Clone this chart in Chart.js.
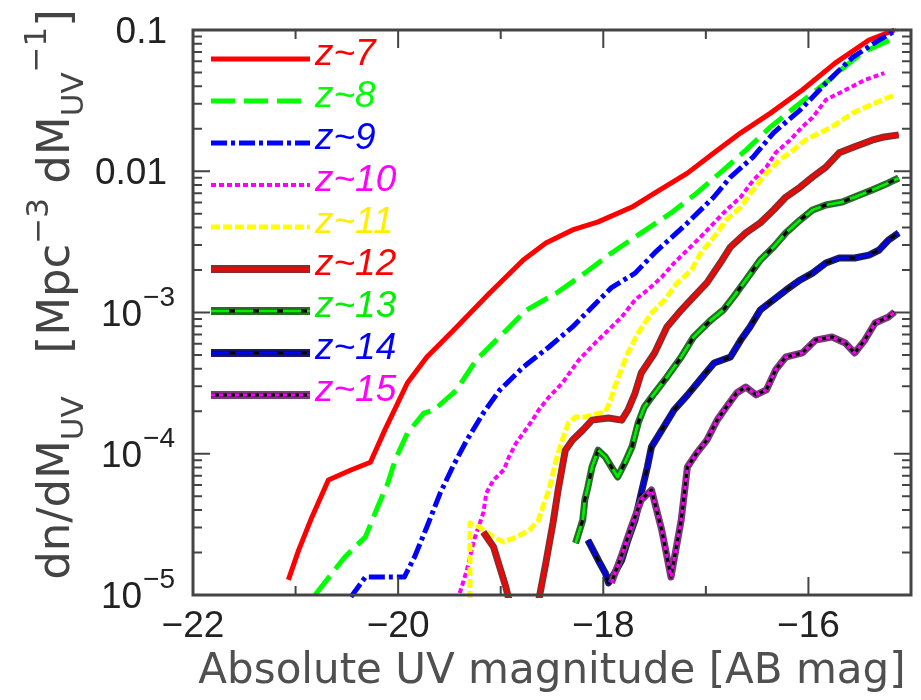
<!DOCTYPE html>
<html>
<head>
<meta charset="utf-8">
<script src="https://cdn.jsdelivr.net/npm/chart.js@4.4.1/dist/chart.umd.min.js"></script>
<style>
  html, body { margin: 0; padding: 0; background: #fff; }
  #wrap { width: 921px; height: 700px; }
</style>
</head>
<body>
<div id="wrap"><canvas id="lf" width="921" height="700"></canvas></div>
<script>
// UV luminosity function per redshift bin, dn/dM_UV against M_UV
const zLabels = ['z~7', 'z~8', 'z~9', 'z~10', 'z~11', 'z~12', 'z~13', 'z~14', 'z~15'];

const magZ7 = [-21.07, -20.97, -20.84, -20.68, -20.46, -20.27, -20.13, -19.91, -19.72, -19.46, -19.11, -18.78, -18.56, -18.30, -18.05, -17.72, -17.50, -17.18, -16.92, -16.66, -16.37, -16.06, -15.74, -15.41, -15.16];
const phiZ7 = [1.28e-5, 2.08e-5, 3.57e-5, 6.52e-5, 7.67e-5, 8.7e-5, 1.47e-4, 3.17e-4, 4.84e-4, 7.5e-4, 1.37e-3, 2.35e-3, 3.1e-3, 3.84e-3, 4.38e-3, 5.58e-3, 7.0e-3, 9.7e-3, 1.35e-2, 1.87e-2, 2.58e-2, 3.76e-2, 5.83e-2, 8.5e-2, 0.1];

const magZ8 = [-20.81, -20.52, -20.32, -20.20, -20.10, -20.03, -19.91, -19.75, -19.65, -19.43, -19.24, -18.97, -18.75, -18.46, -18.18, -17.92, -17.63, -17.34, -17.09, -16.83, -16.61, -16.37, -16.08, -15.80, -15.48, -15.16];
const phiZ8 = [1.0e-5, 1.86e-5, 2.57e-5, 4.2e-5, 6.2e-5, 9.0e-5, 1.4e-4, 1.94e-4, 2.04e-4, 2.83e-4, 4.6e-4, 7.2e-4, 1.04e-3, 1.37e-3, 1.9e-3, 2.64e-3, 3.66e-3, 5.06e-3, 7.0e-3, 1.02e-2, 1.41e-2, 2.06e-2, 3.04e-2, 4.43e-2, 6.9e-2, 8.8e-2];

const magZ9 = [-20.46, -20.32, -20.20, -19.94, -19.84, -19.72, -19.59, -19.46, -19.33, -19.17, -19.01, -18.78, -18.53, -18.30, -18.11, -17.92, -17.69, -17.50, -17.18, -16.92, -16.76, -16.54, -16.34, -16.08, -15.83, -15.57, -15.31, -15.14];
const phiZ9 = [9.7e-6, 1.34e-5, 1.34e-5, 1.34e-5, 1.86e-5, 3.03e-5, 5.27e-5, 8.3e-5, 1.25e-4, 1.94e-4, 2.82e-4, 4.11e-4, 5.7e-4, 7.9e-4, 1.09e-3, 1.5e-3, 1.9e-3, 2.64e-3, 4.3e-3, 6.6e-3, 9.1e-3, 1.26e-2, 1.87e-2, 2.72e-2, 4.2e-2, 6.4e-2, 8.5e-2, 0.1];

const magZ10 = [-19.40, -19.33, -19.26, -19.17, -19.14, -19.07, -18.97, -18.92, -18.85, -18.78, -18.69, -18.63, -18.53, -18.40, -18.24, -18.08, -17.92, -17.82, -17.69, -17.57, -17.43, -17.31, -17.18, -17.05, -16.92, -16.80, -16.66, -16.54, -16.41, -16.32, -16.18, -16.06, -15.96, -15.83, -15.64, -15.45, -15.26];
const phiZ10 = [1.03e-5, 1.5e-5, 2.45e-5, 3.81e-5, 5.27e-5, 6.52e-5, 7.67e-5, 9.48e-5, 1.19e-4, 1.4e-4, 1.73e-4, 2.04e-4, 2.52e-4, 3.16e-4, 4.6e-4, 6.08e-4, 7.89e-4, 9.3e-4, 1.23e-3, 1.44e-3, 1.78e-3, 2.24e-3, 2.77e-3, 3.43e-3, 4.31e-3, 5.32e-3, 6.57e-3, 8.6e-3, 1.07e-2, 1.35e-2, 1.66e-2, 2.06e-2, 2.4e-2, 3.2e-2, 3.76e-2, 4.43e-2, 4.96e-2];

const magZ11 = [-19.30, -19.30, -19.21, -19.07, -18.97, -18.85, -18.72, -18.63, -18.59, -18.53, -18.49, -18.46, -18.40, -18.34, -18.27, -18.18, -17.98, -17.93, -17.89, -17.76, -17.66, -17.53, -17.40, -17.28, -17.14, -17.05, -16.92, -16.80, -16.66, -16.54, -16.41, -16.28, -16.15, -16.03, -15.89, -15.77, -15.57, -15.35, -15.16];
const phiZ11 = [9.2e-6, 3.24e-5, 3.03e-5, 2.57e-5, 2.37e-5, 2.57e-5, 2.88e-5, 3.4e-5, 4.2e-5, 5.54e-5, 7.31e-5, 9.03e-5, 1.25e-4, 1.65e-4, 1.82e-4, 1.82e-4, 1.98e-4, 2.4e-4, 2.97e-4, 5.17e-4, 7.16e-4, 9.9e-4, 1.23e-3, 1.62e-3, 2.0e-3, 2.64e-3, 3.43e-3, 4.52e-3, 5.58e-3, 7.36e-3, 9.73e-3, 1.2e-2, 1.41e-2, 1.66e-2, 1.87e-2, 2.06e-2, 2.58e-2, 3.04e-2, 3.47e-2];

const magZ12 = [-19.17, -19.07, -19.01, -18.95, -18.88, -18.66, -18.56, -18.49, -18.44, -18.40, -18.37, -18.30, -18.20, -18.11, -17.95, -17.82, -17.76, -17.69, -17.63, -17.50, -17.38, -17.24, -17.12, -16.99, -16.86, -16.76, -16.61, -16.47, -16.34, -16.22, -16.08, -15.96, -15.83, -15.70, -15.55, -15.38, -15.26, -15.12];
const phiZ12 = [2.79e-5, 2.19e-5, 1.58e-5, 1.14e-5, 7e-6, 7e-6, 1.69e-5, 3.24e-5, 5.54e-5, 8.05e-5, 1.06e-4, 1.25e-4, 1.47e-4, 1.73e-4, 1.79e-4, 1.73e-4, 2.04e-4, 2.69e-4, 3.73e-4, 5.17e-4, 7.89e-4, 1.04e-3, 1.29e-3, 1.62e-3, 2.24e-3, 2.91e-3, 3.66e-3, 4.31e-3, 5.32e-3, 6.57e-3, 7.73e-3, 9.1e-3, 1.07e-2, 1.35e-2, 1.49e-2, 1.66e-2, 1.75e-2, 1.81e-2];

const magZ13 = [-18.27, -18.20, -18.18, -18.15, -18.11, -18.05, -17.98, -17.92, -17.86, -17.79, -17.72, -17.66, -17.60, -17.50, -17.38, -17.24, -17.12, -16.95, -16.83, -16.73, -16.61, -16.47, -16.34, -16.22, -16.08, -15.96, -15.83, -15.67, -15.55, -15.38, -15.22, -15.12];
const phiZ13 = [2.33e-5, 3.4e-5, 4.71e-5, 5.82e-5, 8.05e-5, 1.06e-4, 9.48e-5, 8.05e-5, 6.85e-5, 8.61e-5, 1.12e-4, 1.65e-4, 2.14e-4, 2.69e-4, 3.49e-4, 4.84e-4, 6.71e-4, 8.85e-4, 1.04e-3, 1.29e-3, 1.7e-3, 2.35e-3, 2.91e-3, 3.66e-3, 4.52e-3, 5.32e-3, 5.77e-3, 6.06e-3, 6.57e-3, 7.36e-3, 8.26e-3, 8.96e-3];

const magZ14 = [-18.15, -18.05, -17.98, -17.95, -17.89, -17.82, -17.76, -17.69, -17.63, -17.57, -17.53, -17.43, -17.31, -17.18, -17.02, -16.92, -16.76, -16.66, -16.57, -16.47, -16.34, -16.22, -16.08, -15.96, -15.83, -15.70, -15.55, -15.41, -15.31, -15.22, -15.12];
const phiZ14 = [2.45e-5, 1.77e-5, 1.43e-5, 1.22e-5, 1.43e-5, 1.77e-5, 2.45e-5, 3.4e-5, 5.27e-5, 8.05e-5, 1.12e-4, 1.47e-4, 2.04e-4, 2.6e-4, 3.6e-4, 4.39e-4, 4.84e-4, 6.38e-4, 7.89e-4, 1.04e-3, 1.23e-3, 1.44e-3, 1.7e-3, 1.9e-3, 2.24e-3, 2.43e-3, 2.43e-3, 2.55e-3, 2.77e-3, 3.26e-3, 3.66e-3];

const magZ15 = [-17.92, -17.82, -17.72, -17.63, -17.53, -17.43, -17.34, -17.24, -17.18, -17.09, -16.99, -16.89, -16.80, -16.70, -16.61, -16.51, -16.41, -16.32, -16.22, -16.06, -15.93, -15.77, -15.64, -15.55, -15.45, -15.35, -15.22, -15.16];
const phiZ15 = [1.22e-5, 1.92e-5, 3.13e-5, 4.71e-5, 5.54e-5, 2.88e-5, 1.34e-5, 3.4e-5, 8.05e-5, 1.01e-4, 1.25e-4, 1.73e-4, 2.14e-4, 2.69e-4, 2.97e-4, 2.61e-4, 2.83e-4, 3.92e-4, 4.84e-4, 5.17e-4, 6.38e-4, 6.71e-4, 6.08e-4, 5.17e-4, 6.38e-4, 8.43e-4, 9.29e-4, 1.01e-3];

const xTicks = [-22, -21, -20, -19, -18, -17, -16, -15];
const yTicks = [1e-5, 1e-4, 1e-3, 1e-2, 1e-1];
const yTickText = [['10', '−5'], ['10', '−4'], ['10', '−3'], ['0.01', ''], ['0.1', '']];
const xTitle = 'Absolute UV magnitude [AB mag]';

const mags = [magZ7, magZ8, magZ9, magZ10, magZ11, magZ12, magZ13, magZ14, magZ15];
const phis = [phiZ7, phiZ8, phiZ9, phiZ10, phiZ11, phiZ12, phiZ13, phiZ14, phiZ15];

// line looks, gnuplot style; the last four are drawn as a dark band with a bright core
const looks = [
    { color: '#ff0000', width: 5, dash: [] },
    { color: '#00ff00', width: 5, dash: [24, 9] },
    { color: '#0000ff', width: 5, dash: [16, 4, 4, 4] },
    { color: '#ff00ff', width: 4, dash: [5, 3] },
    { color: '#ffff00', width: 5, dash: [9, 3] },
    { color: '#ff0000', width: 3, dash: [], under: '#8b2c2c' },
    { color: '#00ee00', width: 3, dash: [18, 6], under: '#2a6a2a', core: '#000000' },
    { color: '#0000ff', width: 3, dash: [18, 6], under: '#1a1a66', core: '#000000' },
    { color: '#ff00ff', width: 3, dash: [4, 4], under: '#7a3a7a', core: '#000000' }
];

const datasets = [];
zLabels.forEach((name, i) => {
    const pts = mags[i].map((m, k) => ({ x: m, y: phis[i][k] }));
    const lk = looks[i];
    const base = (zLabels.length - i) * 3;   // later redshifts sit on top
    const common = { data: pts, pointRadius: 0, tension: 0, fill: false, clip: 3,
        borderJoinStyle: 'round', borderCapStyle: 'butt' };
    if (lk.under) {
        datasets.push({ ...common, label: name + ' band', borderColor: lk.under, borderWidth: 7, order: base + 2 });
    }
    if (lk.core) {
        datasets.push({ ...common, label: name + ' core', borderColor: lk.core, borderWidth: 3, order: base + 1 });
    }
    datasets.push({ ...common, label: name, borderColor: lk.color, borderWidth: lk.width, borderDash: lk.dash, order: base });
});

// frame plus inward ticks on all four sides
const framePlugin = {
    id: 'frame',
    afterDatasetsDraw(chart) {
        const ctx = chart.ctx;
        const { left, right, top, bottom } = chart.chartArea;
        const xs = chart.scales.x, ys = chart.scales.y;
        ctx.save();
        ctx.strokeStyle = '#444';
        ctx.lineWidth = 2;
        ctx.beginPath();
        xTicks.forEach(v => {
            const px = xs.getPixelForValue(v);
            const len = v % 2 === 0 ? 18 : 9;
            ctx.moveTo(px, bottom); ctx.lineTo(px, bottom - len);
            ctx.moveTo(px, top); ctx.lineTo(px, top + len);
        });
        for (let d = -5; d <= -1; d++) {
            for (let k = 1; k <= 9; k++) {
                const v = k * Math.pow(10, d);
                if (v > 0.1000001) break;
                const py = ys.getPixelForValue(v);
                const len = k === 1 ? 17 : 9;
                ctx.moveTo(left, py); ctx.lineTo(left + len, py);
                ctx.moveTo(right, py); ctx.lineTo(right - len, py);
            }
        }
        ctx.stroke();
        ctx.lineWidth = 3;
        ctx.strokeRect(left, top, right - left, bottom - top);
        ctx.restore();
    }
};

function drawRuns(ctx, runs, x0, y0) {
    let x = x0;
    runs.forEach(r => {
        ctx.font = r.size + 'px "DejaVu Sans"';
        ctx.fillText(r.t, x, y0 + (r.dy || 0));
        x += ctx.measureText(r.t).width;
    });
}
function runsWidth(ctx, runs) {
    let w = 0;
    runs.forEach(r => { ctx.font = r.size + 'px "DejaVu Sans"'; w += ctx.measureText(r.t).width; });
    return w;
}

const textPlugin = {
    id: 'texts',
    afterDraw(chart) {
        const ctx = chart.ctx;
        const { left, top, bottom } = chart.chartArea;
        const ys = chart.scales.y;
        ctx.save();

        // y tick labels with real superscripts
        ctx.fillStyle = '#222';
        ctx.textBaseline = 'alphabetic';
        yTicks.forEach((v, i) => {
            const py = ys.getPixelForValue(v);
            const [main, sup] = yTickText[i];
            if (sup) {
                ctx.font = '28px "Liberation Sans"';
                ctx.textAlign = 'right';
                const sw = ctx.measureText(sup).width;
                ctx.fillText(sup, left - 18, py - 7);
                ctx.font = '37px "Liberation Sans"';
                ctx.fillText(main, left - 18 - sw - 1, py + 13);
            } else {
                ctx.font = '37px "Liberation Sans"';
                ctx.textAlign = 'right';
                ctx.fillText(main, left - 26, py + 13);
            }
        });

        // y axis title, rotated
        const runs = [
            { t: 'dn/dM', size: 45 }, { t: 'UV', size: 31, dy: 14 },
            { t: '   [Mpc', size: 45 }, { t: '−3', size: 31, dy: -21 },
            { t: ' dM', size: 45 }, { t: 'UV', size: 31, dy: 14 }, { t: '−1', size: 31, dy: -23 },
            { t: ']', size: 45 }
        ];
        ctx.fillStyle = '#444';
        ctx.textAlign = 'left';
        ctx.translate(69, (top + bottom) / 2 - 18);
        ctx.rotate(-Math.PI / 2);
        drawRuns(ctx, runs, -runsWidth(ctx, runs) / 2, 0);
        ctx.restore();

        // legend inside the frame, upper left
        ctx.save();
        zLabels.forEach((name, i) => {
            const lk = looks[i];
            const y = top + 29 + i * 42;
            const x0 = left + 18, x1 = left + 117;
            const seg = (color, w, dash) => {
                ctx.strokeStyle = color; ctx.lineWidth = w; ctx.setLineDash(dash);
                ctx.beginPath(); ctx.moveTo(x0, y); ctx.lineTo(x1, y); ctx.stroke();
            };
            if (lk.under) seg(lk.under, 8, []);
            if (lk.core) seg(lk.core, 3, []);
            seg(lk.color, lk.width, lk.dash);
            ctx.setLineDash([]);
            ctx.fillStyle = lk.color === '#ffff00' ? '#ffee00' : lk.color;
            ctx.font = 'italic 37px "Liberation Sans"';
            ctx.textAlign = 'left';
            ctx.textBaseline = 'middle';
            ctx.fillText(name, x1 + 5, y - 4);
        });
        ctx.restore();
    }
};

new Chart(document.getElementById('lf'), {
    type: 'line',
    data: { datasets: datasets },
    options: {
        responsive: false,
        animation: false,
        devicePixelRatio: 1,
        layout: { padding: { top: 30, right: 2, left: 0, bottom: 0 } },
        plugins: { legend: { display: false }, tooltip: { enabled: false } },
        scales: {
            x: {
                type: 'linear',
                min: -22,
                max: -15,
                afterBuildTicks: scale => { scale.ticks = xTicks.map(v => ({ value: v })); },
                afterFit: scale => { scale.height = 105; },
                grid: { display: false, drawTicks: false },
                border: { display: false },
                ticks: {
                    autoSkip: false,
                    maxRotation: 0,
                    padding: 10,
                    color: '#222',
                    font: { family: 'Liberation Sans', size: 37 },
                    callback: v => (v % 2 === 0 ? '−' + Math.abs(v) : '')
                },
                title: {
                    display: true,
                    text: xTitle,
                    color: '#505050',
                    font: { family: 'DejaVu Sans', size: 42 },
                    padding: { top: 0, bottom: 3 }
                }
            },
            y: {
                type: 'logarithmic',
                min: 1e-5,
                max: 0.1,
                afterBuildTicks: scale => { scale.ticks = yTicks.map(v => ({ value: v })); },
                afterFit: scale => { scale.width = 193; },
                grid: { display: false, drawTicks: false },
                border: { display: false },
                ticks: { display: false }
            }
        }
    },
    plugins: [framePlugin, textPlugin]
});
</script>
</body>
</html>
